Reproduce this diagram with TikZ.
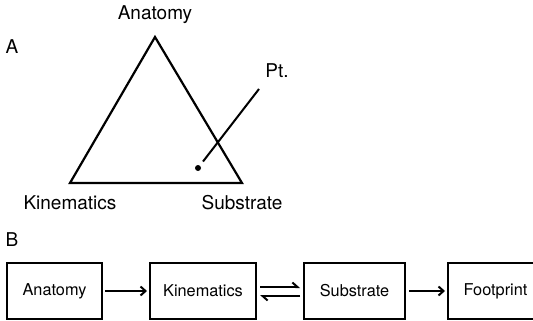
\documentclass[tikz,border=0pt]{standalone}
\usepackage{fontspec}
\setmainfont{TeX Gyre Heros}
\usetikzlibrary{arrows.meta,positioning}

\tikzset{
  biglabel/.style={font=\fontsize{19}{21}\selectfont, inner sep=0pt},
  stagebox/.style={draw, line width=2pt, minimum height=56pt, inner sep=0pt,
    font=\fontsize{16.3}{18}\selectfont},
  flow/.style={line width=2pt, -{Straight Barb[length=5pt,width=9pt,line width=2pt]}},
  harp/.style={line width=2pt, -{Straight Barb[left,length=5pt,width=9pt,line width=2pt]}}
}

\begin{document}
\begin{tikzpicture}[x=1pt,y=-1pt]
    \useasboundingbox (0,0) rectangle (533,321);
    \clip (0,0) rectangle (533,321);

    % A: the triangle
    \node[biglabel] (panelA) at (12,47) {A};
    \coordinate (apex) at (155,37);
    \coordinate (kinC) at (70,183);
    \coordinate (subC) at (242,183);
    \draw[line width=2.2pt, line join=miter] (apex) -- (kinC) -- (subC) -- cycle;
    \node[biglabel] (anat) at (155,15) {Anatomy};
    \node[biglabel] (kinL) at (70,203) {Kinematics};
    \node[biglabel] (subL) at (242,203) {Substrate};
    \node[biglabel] (pt) at (277,71) {Pt.};
    \coordinate (ptend) at (259,89);
    \node[circle, fill, inner sep=0pt, minimum size=6pt] (dot) at (198,168) {};
    \draw[line width=2pt, shorten <=5pt] (dot) -- (ptend);

    % B: the chain
    \node[biglabel] (panelB) at (12,240) {B};
    \node[stagebox, minimum width=95pt] (anatB) at (54.5,291) {Anatomy};
    \node[stagebox, minimum width=106pt] (kinB) at (203,291) {Kinematics};
    \node[stagebox, minimum width=101pt] (subB) at (354.5,291) {Substrate};
    \node[stagebox, minimum width=95pt] (footB) at (495.5,291) {Footprint};

    \draw[flow, shorten <=2pt, shorten >=2pt] (anatB) -- (kinB);
    \draw[harp, shorten <=3pt, shorten >=3pt] ([yshift=4pt]kinB.east) -- ([yshift=4pt]subB.west);
    \draw[harp, shorten <=3pt, shorten >=3pt] ([yshift=-5pt]subB.west) -- ([yshift=-5pt]kinB.east);
    \draw[flow, shorten <=3pt, shorten >=2pt] (subB) -- (footB);
  \end{tikzpicture}
\end{document}
